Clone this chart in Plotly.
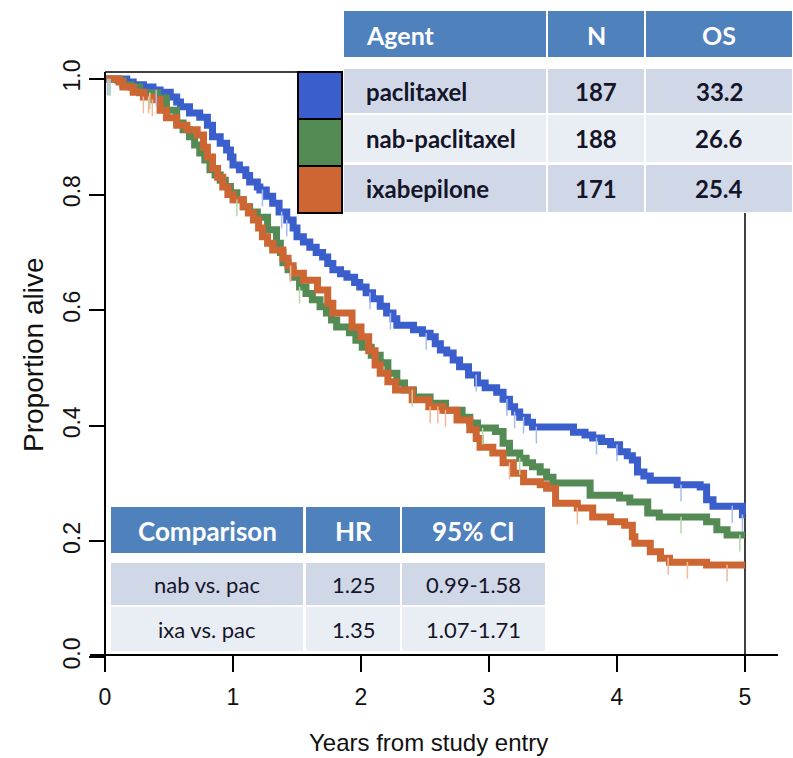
import numpy as np
import plotly.graph_objects as go

# ---------------- data ----------------
pac_t = [0, 0.17, 0.22, 0.30, 0.375, 0.43, 0.51, 0.56, 0.59, 0.66, 0.74, 0.80, 0.84, 0.90, 0.95, 0.98,
         1.00, 1.05, 1.10, 1.13, 1.19, 1.21, 1.26, 1.31, 1.36, 1.42, 1.47, 1.50, 1.55, 1.60, 1.65, 1.70,
         1.74, 1.78, 1.84, 1.89, 1.95, 1.99, 2.04, 2.09, 2.15, 2.20, 2.25, 2.28, 2.41, 2.48, 2.54, 2.58,
         2.62, 2.67, 2.72, 2.77, 2.84, 2.91, 2.97, 3.06, 3.11, 3.16, 3.20, 3.24, 3.30, 3.34, 3.66, 3.75,
         3.81, 3.88, 3.95, 4.02, 4.08, 4.12, 4.16, 4.21, 4.26, 4.47, 4.65, 4.70, 4.75, 4.98, 5.0]
pac_s = [1.0, 0.995, 0.990, 0.986, 0.981, 0.977, 0.969, 0.960, 0.952, 0.941, 0.934, 0.920, 0.900, 0.889, 0.877, 0.865,
         0.851, 0.843, 0.833, 0.822, 0.813, 0.808, 0.797, 0.785, 0.770, 0.756, 0.742, 0.727, 0.718, 0.709, 0.700, 0.692,
         0.681, 0.670, 0.663, 0.657, 0.648, 0.640, 0.630, 0.620, 0.607, 0.595, 0.585, 0.574, 0.566, 0.560, 0.554, 0.542,
         0.531, 0.526, 0.514, 0.502, 0.488, 0.474, 0.466, 0.458, 0.446, 0.433, 0.424, 0.415, 0.406, 0.398, 0.389, 0.384,
         0.379, 0.373, 0.367, 0.355, 0.348, 0.341, 0.320, 0.313, 0.306, 0.298, 0.294, 0.272, 0.261, 0.246, 0.246]

nab_t = [0, 0.10, 0.14, 0.20, 0.27, 0.41, 0.48, 0.56, 0.61, 0.66, 0.70, 0.74, 0.78, 0.82, 0.86, 0.90,
         0.94, 0.98, 1.03, 1.08, 1.13, 1.19, 1.27, 1.34, 1.37, 1.39, 1.43, 1.47, 1.52, 1.57, 1.62, 1.68,
         1.73, 1.77, 1.81, 1.91, 1.96, 2.01, 2.08, 2.15, 2.21, 2.28, 2.34, 2.41, 2.54, 2.66, 2.79, 2.85,
         2.91, 3.05, 3.11, 3.16, 3.24, 3.29, 3.34, 3.40, 3.45, 3.50, 3.79, 4.02, 4.10, 4.24, 4.33, 4.70,
         4.78, 4.86, 5.0]
nab_s = [1.0, 0.998, 0.990, 0.986, 0.976, 0.967, 0.946, 0.924, 0.912, 0.900, 0.886, 0.872, 0.860, 0.843, 0.834, 0.825,
         0.814, 0.803, 0.791, 0.779, 0.770, 0.761, 0.739, 0.716, 0.700, 0.682, 0.670, 0.657, 0.640, 0.629, 0.618, 0.606,
         0.595, 0.583, 0.571, 0.561, 0.548, 0.536, 0.522, 0.509, 0.491, 0.474, 0.462, 0.450, 0.439, 0.427, 0.415, 0.405,
         0.396, 0.390, 0.370, 0.353, 0.344, 0.336, 0.329, 0.320, 0.311, 0.301, 0.280, 0.275, 0.268, 0.249, 0.242, 0.234,
         0.220, 0.211, 0.211]

ixa_t = [0, 0.11, 0.14, 0.22, 0.30, 0.37, 0.43, 0.48, 0.56, 0.64, 0.72, 0.77, 0.80, 0.84, 0.88, 0.92,
         0.96, 1.00, 1.08, 1.12, 1.16, 1.20, 1.23, 1.27, 1.31, 1.39, 1.43, 1.47, 1.55, 1.66, 1.74, 1.78,
         1.93, 2.00, 2.06, 2.11, 2.15, 2.21, 2.27, 2.40, 2.53, 2.64, 2.75, 2.85, 2.90, 2.93, 3.03, 3.11,
         3.19, 3.27, 3.40, 3.45, 3.52, 3.69, 3.81, 3.95, 4.06, 4.12, 4.14, 4.26, 4.34, 4.41, 4.70, 5.0]
ixa_s = [1.0, 0.995, 0.986, 0.977, 0.969, 0.964, 0.946, 0.933, 0.920, 0.912, 0.903, 0.882, 0.865, 0.845, 0.830, 0.813,
         0.800, 0.791, 0.779, 0.768, 0.756, 0.742, 0.727, 0.716, 0.704, 0.690, 0.677, 0.664, 0.652, 0.635, 0.612, 0.595,
         0.571, 0.554, 0.530, 0.505, 0.491, 0.476, 0.462, 0.445, 0.433, 0.427, 0.410, 0.393, 0.378, 0.363, 0.353, 0.336,
         0.318, 0.303, 0.298, 0.292, 0.266, 0.258, 0.242, 0.234, 0.228, 0.208, 0.197, 0.182, 0.171, 0.164, 0.159, 0.159]

pac_cens = [0.02, 0.04, 0.40, 1.23, 1.38, 1.42, 2.07, 2.23, 2.51, 2.90, 3.14, 3.20, 3.27, 3.37, 3.84, 4.00, 4.50, 4.90, 4.98]
nab_cens = [0.03, 0.35, 1.03, 1.52, 2.40, 2.95, 3.24, 4.50, 4.96]
ixa_cens = [0.30, 0.34, 0.37, 1.45, 2.54, 2.60, 2.66, 3.16, 3.69, 4.40, 4.55, 4.86]

agents = ["paclitaxel", "nab-paclitaxel", "ixabepilone"]
agent_n = ["187", "188", "171"]
agent_os = ["33.2", "26.6", "25.4"]
comparisons = ["nab vs. pac", "ixa vs. pac"]
hr_vals = ["1.25", "1.35"]
ci_vals = ["0.99-1.58", "1.07-1.71"]

x_ticks = [0, 1, 2, 3, 4, 5]
y_ticks = [0.0, 0.2, 0.4, 0.6, 0.8, 1.0]

# ---------------- styling ----------------
BLUE, GREEN, ORANGE = "#3A5FCD", "#548B54", "#CD6633"
CENS = ["#A8BCF4", "#B4D6A8", "#F2B898"]
HDR, BAND1, BAND2 = "#4F81BD", "#D0D8E8", "#E9EDF4"
TXT = "#15152A"

W, H = 793, 758
ML, MR, MT, MB = 90, 15, 72, 99
PW, PH = W - ML - MR, H - MT - MB


def px(x):
    return (x - ML) / PW


def py(y):
    return (H - MB - y) / PH


fig = go.Figure()

series = [(pac_t, pac_s, pac_cens, BLUE, CENS[0]),
          (nab_t, nab_s, nab_cens, GREEN, CENS[1]),
          (ixa_t, ixa_s, ixa_cens, ORANGE, CENS[2])]

for t, s, cens, col, ccol in series:
    fig.add_trace(go.Scatter(x=t, y=s, mode="lines", line=dict(color=col, width=7, shape="hv"),
                             hoverinfo="skip", showlegend=False))
for t, s, cens, col, ccol in series:
    idx = np.searchsorted(np.array(t), np.array(cens), side="right") - 1
    cy = np.array(s)[idx] - 0.014
    fig.add_trace(go.Scatter(x=cens, y=cy, mode="markers",
                             marker=dict(symbol="line-ns", size=12, line=dict(color=ccol, width=1.5)),
                             hoverinfo="skip", showlegend=False))

shapes = []
# partial box lines
shapes.append(dict(type="line", xref="paper", yref="paper", x0=px(105), x1=px(298), y0=py(72), y1=py(72),
                   line=dict(color="black", width=1.5), layer="below"))
shapes.append(dict(type="line", xref="x", yref="paper", x0=5, x1=5, y0=py(72), y1=py(655),
                   line=dict(color="black", width=1.5), layer="below"))

annotations = []


def rect(x0, x1, y0, y1, fill, line=None):
    shapes.append(dict(type="rect", xref="paper", yref="paper", x0=px(x0), x1=px(x1), y0=py(y1), y1=py(y0),
                       fillcolor=fill, line=line or dict(width=0), layer="above"))


def text(x, y, s, size, color, xanchor="center", bold=False, family="Lato"):
    annotations.append(dict(xref="paper", yref="paper", x=px(x), y=py(y), text=("<b>%s</b>" % s) if bold else s,
                            showarrow=False, xanchor=xanchor, yanchor="middle",
                            font=dict(family=family, size=size, color=color)))


# top table
rect(344, 792, 10, 213, "white")
cols = [(344, 546), (548, 644), (646, 792)]
for c0, c1 in cols:
    rect(c0, c1, 11, 57, HDR)
text(364, 35, "Agent", 25, "white", "left", True)
text(596, 35, "N", 25, "white", "center", True)
text(719, 35, "OS", 25, "white", "center", True)
rows = [(69, 113, BAND1), (115, 162, BAND2), (165, 212, BAND1)]
for i, (y0, y1, band) in enumerate(rows):
    for c0, c1 in cols:
        rect(c0, c1, y0, y1, band)
    yc = (y0 + y1) / 2
    text(364, yc, agents[i], 24, TXT, "left", True)
    text(596, yc, agent_n[i], 24, TXT, "center", True)
    text(719, yc, agent_os[i], 24, TXT, "center", True)

# legend swatches
for (y0, y1), col in zip([(72, 119), (119, 166), (166, 213)], [BLUE, GREEN, ORANGE]):
    rect(298, 342, y0, y1, col, dict(color="black", width=2))

# bottom table
rect(110, 546, 506, 652, "white")
bcols = [(111, 303), (306, 400), (402, 545)]
for c0, c1 in bcols:
    rect(c0, c1, 507, 553, HDR)
for (c0, c1), h in zip(bcols, ["Comparison", "HR", "95% CI"]):
    text((c0 + c1) / 2, 531, h, 26, "white", "center", True)
brows = [(563, 605, BAND1), (607, 651, BAND2)]
for i, (y0, y1, band) in enumerate(brows):
    for c0, c1 in bcols:
        rect(c0, c1, y0, y1, band)
    yc = (y0 + y1) / 2
    vals = [comparisons[i], hr_vals[i], ci_vals[i]]
    for (c0, c1), v in zip(bcols, vals):
        text((c0 + c1) / 2, yc, v, 22, TXT, "center", False)

# axis titles
annotations.append(dict(xref="paper", yref="paper", x=px(428), y=py(742), text="Years from study entry",
                        showarrow=False, xanchor="center", yanchor="middle",
                        font=dict(family="Liberation Sans", size=24, color="#111")))
annotations.append(dict(xref="paper", yref="paper", x=px(33), y=py(355), text="Proportion alive",
                        showarrow=False, xanchor="center", yanchor="middle", textangle=-90,
                        font=dict(family="Liberation Sans", size=28, color="#111")))

fig.update_layout(
    width=W, height=H,
    margin=dict(l=ML, r=MR, t=MT, b=MB, pad=0),
    paper_bgcolor="white", plot_bgcolor="white",
    shapes=shapes, annotations=annotations,
    xaxis=dict(range=[-15 / 128, (778 - 105) / 128], tickvals=x_ticks, ticktext=[str(v) for v in x_ticks],
               showgrid=False, zeroline=False, showline=True, linecolor="black", linewidth=1.5,
               ticks="outside", ticklen=16, tickwidth=1.5, tickcolor="black",
               anchor="free", position=py(655), ticklabelstandoff=6,
               tickfont=dict(family="Liberation Sans", size=23, color="#111")),
    yaxis=dict(range=[-2 / 578, 1 + 7 / 578], tickvals=y_ticks, ticktext=["%.1f" % v for v in y_ticks],
               showgrid=False, zeroline=False, showline=True, linecolor="black", linewidth=1.5,
               ticks="outside", ticklen=15, tickwidth=1.5, tickcolor="black", tickangle=-90,
               anchor="free", position=px(105),
               tickfont=dict(family="Liberation Sans", size=23, color="#111")),
)

fig.write_html("out.html")
